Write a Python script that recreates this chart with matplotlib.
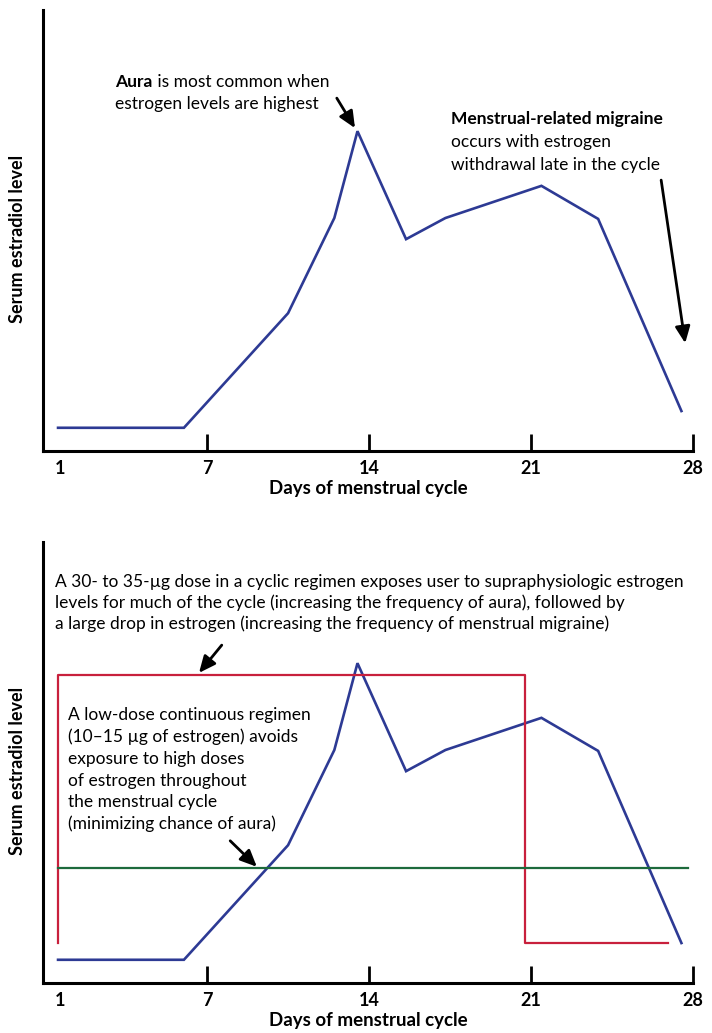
import numpy as np
import matplotlib.pyplot as plt

plt.rcParams['font.family'] = ['Lato', 'DejaVu Sans']

# serum estradiol over the cycle (arbitrary units, 0-100)
days = [0.56, 6.0, 10.5, 12.5, 13.5, 15.6, 17.3, 21.45, 23.9, 27.5]
estradiol = [5.2, 5.2, 31.2, 52.8, 72.5, 48.0, 52.8, 60.1, 52.6, 9.0]

# 30-35 ug cyclic regimen: high for 21 days, then a drop
cyclic_days = [0.56, 0.56, 20.74, 20.74, 26.9]
cyclic_level = [9.0, 69.8, 69.8, 9.0, 9.0]

# 10-15 ug continuous regimen
low_days = [0.56, 27.78]
low_level = [26.0, 26.0]

tick_pos = [0.65, 7, 14, 21, 28]
tick_labels = ['1', '7', '14', '21', '28']

BLUE = '#2d3a94'
RED = '#c8203c'
GREEN = '#1d6a3c'

W, H = 712, 1033
fig = plt.figure(figsize=(W / 100, H / 100), dpi=100)


def make_panel(top_px):
    ax = fig.add_axes([43 / W, 1 - (top_px + 440.7) / H, 650 / W, 440.7 / H])
    for s in ['top', 'right']:
        ax.spines[s].set_visible(False)
    for s in ['left', 'bottom']:
        ax.spines[s].set_linewidth(2.2)
    ax.set_xlim(-0.09, 28)
    ax.set_ylim(0, 100)
    ax.set_yticks([])
    ax.set_xticks(tick_pos)
    ax.set_xticklabels(tick_labels, fontweight='bold', fontsize=13)
    ax.tick_params(axis='x', direction='in', length=12, width=2, pad=7)
    ax.xaxis.get_major_ticks()[0].tick1line.set_visible(False)
    ax.set_xlabel('Days of menstrual cycle', fontweight='bold', fontsize=13.5, labelpad=2)
    ax.plot(days, estradiol, color=BLUE, lw=1.9, solid_joinstyle='miter')
    fig.text(18 / W, 1 - (top_px + 229) / H, 'Serum estradiol level', rotation=90,
             ha='center', va='center', fontweight='bold', fontsize=13)
    return ax


arrow = dict(arrowstyle='-|>,head_length=1.0,head_width=0.45', color='black', lw=2,
             shrinkA=0, shrinkB=0)
FS = 12.5

# ---- top panel
ax1 = make_panel(10)
aura = ax1.text(0.111, 0.837, 'Aura', transform=ax1.transAxes, fontweight='bold',
                fontsize=FS, va='center', ha='left')
ax1.annotate(' is most common when', xy=(1, 0), xycoords=aura, va='bottom', ha='left', fontsize=FS)
ax1.text(0.111, 0.787, 'estrogen levels are highest', transform=ax1.transAxes,
         fontsize=FS, va='center', ha='left')
ax1.annotate('', xy=(0.480, 0.732), xytext=(0.452, 0.800), xycoords='axes fraction',
             textcoords='axes fraction', arrowprops=arrow)

ax1.text(0.628, 0.753, 'Menstrual-related migraine', transform=ax1.transAxes,
         fontweight='bold', fontsize=FS, va='center', ha='left')
mig_lines = ['occurs with estrogen', 'withdrawal late in the cycle']
for i, line in enumerate(mig_lines):
    ax1.text(0.628, 0.701 - i * 0.053, line, transform=ax1.transAxes,
             fontsize=FS, va='center', ha='left')
ax1.annotate('', xy=(0.988, 0.244), xytext=(0.951, 0.614), xycoords='axes fraction',
             textcoords='axes fraction', arrowprops=arrow)

# ---- bottom panel
ax2 = make_panel(542)
ax2.plot(cyclic_days, cyclic_level, color=RED, lw=1.6)
ax2.plot(low_days, low_level, color=GREEN, lw=1.6)

high_lines = ['A 30- to 35-\u00b5g dose in a cyclic regimen exposes user to supraphysiologic estrogen',
              'levels for much of the cycle (increasing the frequency of aura), followed by',
              'a large drop in estrogen (increasing the frequency of menstrual migraine)']
for i, line in enumerate(high_lines):
    ax2.text(0.018, 0.909 - i * 0.0477, line, transform=ax2.transAxes,
             fontsize=FS, va='center', ha='left')
ax2.annotate('', xy=(0.240, 0.703), xytext=(0.275, 0.766), xycoords='axes fraction',
             textcoords='axes fraction', arrowprops=arrow)

low_lines = ['A low-dose continuous regimen', '(10\u201315 \u00b5g of estrogen) avoids',
             'exposure to high doses', 'of estrogen throughout', 'the menstrual cycle',
             '(minimizing chance of aura)']
for i, line in enumerate(low_lines):
    ax2.text(0.038, 0.607 - i * 0.0494, line, transform=ax2.transAxes,
             fontsize=FS, va='center', ha='left')
ax2.annotate('', xy=(0.329, 0.263), xytext=(0.288, 0.322), xycoords='axes fraction',
             textcoords='axes fraction', arrowprops=arrow)

fig.savefig('out.png', dpi=100)
